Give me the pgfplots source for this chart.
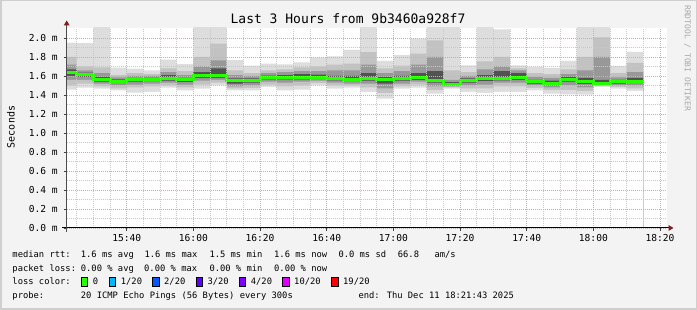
\documentclass[border=0pt]{standalone}
\usepackage{fontspec}
\setmainfont{DejaVu Sans Mono}
\usepackage{pgfplots}
\usepackage{pgfplotstable}
\pgfplotsset{compat=1.18}

\definecolor{bgc}{HTML}{F3F3F3}
\definecolor{framec}{HTML}{CFCFCF}
\definecolor{sA}{HTML}{DDDDDD}
\definecolor{sB}{HTML}{C2C2C2}
\definecolor{sC}{HTML}{989898}
\definecolor{sD}{HTML}{525252}
\definecolor{medc}{HTML}{26FF00}
\definecolor{mgrid}{HTML}{F0A0A0}
\definecolor{ngrid}{HTML}{C8C8C8}
\definecolor{arrowc}{HTML}{7F1F1F}
\definecolor{wmc}{HTML}{A8A8A8}
\definecolor{lc1}{HTML}{00B8FF}
\definecolor{lc2}{HTML}{0059FF}
\definecolor{lc3}{HTML}{5E00FF}
\definecolor{lc4}{HTML}{7E00FF}
\definecolor{lc10}{HTML}{DD00FF}
\definecolor{lc19}{HTML}{FF0000}

% time in minutes after 15:00, bucket start; values in ms
\pgfplotstableread{
t   mn    lo2   lo3   lo4   med   hi4   hi3   hi2   mx
20  1.456 1.50  1.56  1.60  1.635 1.67  1.72  1.80  1.951
25  1.477 1.52  1.56  1.59  1.614 1.635 1.66  1.70  1.947
30  1.467 1.49  1.52  1.54  1.561 1.59  1.63  1.69  2.2
35  1.449 1.47  1.50  1.525 1.547 1.565 1.585 1.61  1.688
40  1.425 1.48  1.51  1.54  1.558 1.575 1.60  1.63  1.677
45  1.432 1.49  1.52  1.545 1.565 1.58  1.60  1.62  1.660
50  1.477 1.50  1.53  1.55  1.572 1.61  1.64  1.68  1.772
55  1.449 1.48  1.51  1.535 1.558 1.58  1.61  1.65  1.726
60  1.467 1.51  1.55  1.58  1.600 1.64  1.70  1.80  2.2
65  1.500 1.53  1.56  1.58  1.600 1.68  1.765 1.94  2.2
70  1.449 1.47  1.49  1.52  1.551 1.575 1.61  1.66  1.768
75  1.449 1.475 1.50  1.53  1.554 1.575 1.60  1.63  1.709
80  1.484 1.51  1.54  1.565 1.586 1.605 1.63  1.66  1.730
85  1.449 1.49  1.53  1.565 1.589 1.61  1.64  1.67  1.723
90  1.456 1.50  1.54  1.565 1.589 1.62  1.65  1.69  1.744
95  1.500 1.525 1.55  1.57  1.589 1.615 1.65  1.70  1.793
100 1.467 1.50  1.53  1.555 1.575 1.60  1.66  1.72  1.807
105 1.477 1.50  1.52  1.545 1.565 1.60  1.66  1.73  1.874
110 1.432 1.48  1.52  1.55  1.575 1.63  1.72  1.85  2.2
115 1.361 1.42  1.47  1.52  1.561 1.59  1.63  1.68  1.758
120 1.467 1.49  1.52  1.55  1.572 1.60  1.65  1.71  1.820
125 1.477 1.51  1.54  1.56  1.582 1.63  1.72  1.835 1.993
130 1.414 1.45  1.49  1.53  1.554 1.65  1.80  1.975 2.2
135 1.467 1.48  1.49  1.50  1.512 1.535 1.56  1.66  2.2
140 1.432 1.47  1.50  1.53  1.551 1.575 1.60  1.64  1.712
145 1.421 1.47  1.51  1.545 1.572 1.61  1.67  1.754 2.2
150 1.432 1.49  1.53  1.555 1.572 1.65  1.70  1.80  2.09
155 1.432 1.49  1.53  1.56  1.579 1.63  1.66  1.68  1.712
160 1.449 1.475 1.50  1.52  1.537 1.56  1.59  1.63  1.695
165 1.414 1.45  1.48  1.505 1.526 1.55  1.58  1.62  1.684
170 1.407 1.45  1.50  1.54  1.565 1.59  1.62  1.67  1.758
175 1.404 1.44  1.48  1.515 1.537 1.58  1.66  1.80  2.2
180 1.484 1.495 1.505 1.515 1.526 1.56  1.80  2.007 2.2
185 1.467 1.485 1.50  1.52  1.537 1.56  1.585 1.63  1.705
190 1.442 1.47  1.50  1.525 1.547 1.58  1.64  1.737 1.853
195 1.442 1.47  1.50  1.525 1.547 1.58  1.64  1.737 1.853
}\smoke

\newcommand{\band}[2]{\addplot[const plot, fill=#1, draw=none] table[x=t,y=#2]{\smoke} \closedcycle;}

\begin{document}
\begin{tikzpicture}[x=1pt,y=1pt]
\useasboundingbox (0,0) rectangle (697,310);
\fill[bgc] (0,0) rectangle (697,310);
\draw[framec, line width=1.5pt] (0.75,0.75) rectangle (696.25,309.25);

\begin{axis}[
  at={(66.7pt,82pt)}, anchor=south west,
  scale only axis, width=600pt, height=200pt,
  xmin=22, xmax=202, ymin=0, ymax=2.105,
  axis on top,
  axis x line*=bottom, axis y line*=left,
  axis line style={draw=none},
  axis background/.style={fill=white},
  xtick={40,60,80,100,120,140,160,180,200},
  xticklabels={15:40,16:00,16:20,16:40,17:00,17:20,17:40,18:00,18:20},
  minor xtick={25,30,35,45,50,55,65,70,75,85,90,95,105,110,115,125,130,135,145,150,155,165,170,175,185,190,195},
  ytick={0,0.2,0.4,0.6,0.8,1.0,1.2,1.4,1.6,1.8,2.0},
  yticklabels={0.0 m,0.2 m,0.4 m,0.6 m,0.8 m,1.0 m,1.2 m,1.4 m,1.6 m,1.8 m,2.0 m},
  minor ytick={0.1,0.3,0.5,0.7,0.9,1.1,1.3,1.5,1.7,1.9},
  xmajorgrids, ymajorgrids, xminorgrids, yminorgrids,
  major grid style={mgrid, line width=0.8pt, dash pattern=on 1pt off 1pt},
  minor grid style={ngrid, line width=0.8pt, dash pattern=on 1pt off 1pt},
  tick align=outside, major tick length=3pt, minor tick length=0pt,
  tick style={black!75, line width=0.8pt},
  ticklabel style={font=\fontsize{9.6}{10}\selectfont},
  yticklabel style={xshift=-2.5pt},
]
\band{sA}{mx}
\band{sB}{hi2}
\band{sC}{hi3}
\band{sD}{hi4}
\band{sC}{lo4}
\band{sB}{lo3}
\band{sA}{lo2}
\band{white}{mn}
\addplot[const plot, medc, line width=3pt] table[x=t,y=med]{\smoke};
\end{axis}

% axis lines and arrows
\draw[black, line width=1pt] (62,82) -- (669,82);
\fill[arrowc] (673.5,82) -- (668.5,85) -- (668.5,79) -- cycle;
\draw[black!70, line width=1pt] (66.7,78) -- (66.7,285);
\fill[arrowc] (66.7,289.5) -- (63.7,284.5) -- (69.7,284.5) -- cycle;

% title, labels
\node[anchor=base, inner sep=0, font=\fontsize{13}{14}\selectfont] at (348,286) {Last 3 Hours from 9b3460a928f7};
\node[rotate=90, inner sep=0, font=\fontsize{10}{12}\selectfont] at (11,183) {Seconds};
\node[rotate=-90, anchor=west, inner sep=0, font=\fontsize{8}{9}\selectfont, text=wmc] at (687.5,305) {RRDTOOL / TOBI OETIKER};

% legend
\begin{scope}[every node/.style={anchor=base west, inner sep=0, font=\fontsize{8.8}{10}\selectfont}]
\node at (12.3,52) {median rtt:};
\node at (80.7,52) {1.6 ms avg};
\node at (144.3,52) {1.6 ms max};
\node at (209.3,52) {1.5 ms min};
\node at (274,52) {1.6 ms now};
\node at (338.3,52) {0.0 ms sd};
\node at (397.7,52) {66.8};
\node at (434.3,52) {am/s};

\node at (12.3,38.5) {packet loss:};
\node at (80.7,38.5) {0.00 \% avg};
\node at (144,38.5) {0.00 \% max};
\node at (209.3,38.5) {0.00 \% min};
\node at (274,38.5) {0.00 \% now};

\node at (12.3,25) {loss color:};
\node at (92.7,25) {0};
\node at (120.7,25) {1/20};
\node at (164,25) {2/20};
\node at (207.3,25) {3/20};
\node at (250.7,25) {4/20};
\node at (294,25) {10/20};
\node at (343,25) {19/20};

\node at (12.3,11.5) {probe:};
\node at (80.7,11.5) {20 ICMP Echo Pings (56 Bytes) every 300s};
\node at (358.3,11.5) {end: Thu Dec 11 18:21:43 2025};
\end{scope}
\foreach \xx/\cc in {81/medc,109.3/lc1,152.7/lc2,196/lc3,239.3/lc4,282.7/lc10,331.7/lc19}{
  \filldraw[fill=\cc, draw=black, line width=0.8pt] (\xx,23.6) rectangle ++(6.3,8.6);
}
\end{tikzpicture}
\end{document}
